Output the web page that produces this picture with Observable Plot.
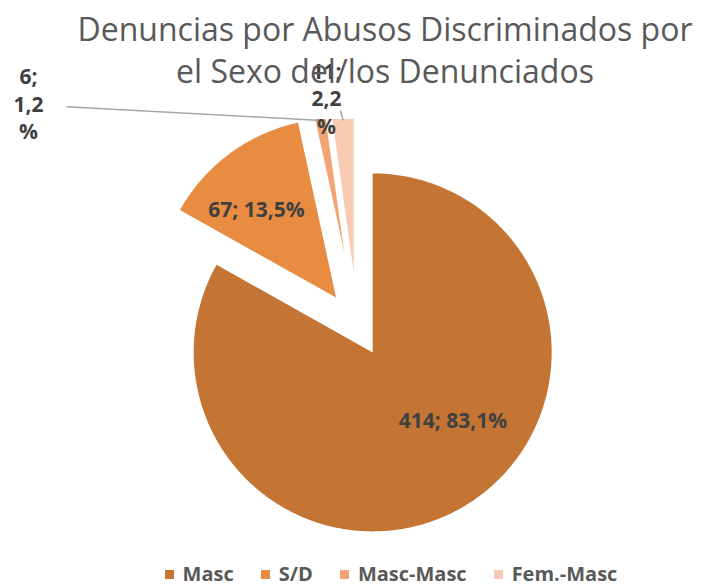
<!DOCTYPE html>
<html>
<head>
<meta charset="utf-8">
<script src="https://cdn.jsdelivr.net/npm/d3@7"></script>
<script src="https://cdn.jsdelivr.net/npm/@observablehq/plot@0.6"></script>
<style>
  body { margin: 0; background: #ffffff; }
  #wrap { position: relative; width: 701px; height: 586px; overflow: hidden; font-family: "Open Sans", sans-serif; background: #fff; }
  #chart { position: absolute; left: 0; top: 0; }
  #title { position: absolute; left: 35px; width: 700px; top: 8px; text-align: center; font-weight: 400; font-size: 32px; line-height: 42px; color: #595959; white-space: nowrap; }
  #legend { position: absolute; top: 563px; left: 81px; width: 620px; height: 22px; display: flex; justify-content: center; align-items: center; gap: 27px; font-weight: 700; font-size: 20px; line-height: 22px; color: #595959; }
  .item { display: flex; align-items: center; }
  .sw { width: 9px; height: 9px; margin-right: 9px; }
</style>
</head>
<body>
<div id="wrap">
  <div id="chart"></div>
  <div id="title"></div>
  <div id="legend"></div>
</div>
<script>
// ---- data ----
const categories = ["Masc", "S/D", "Masc-Masc", "Fem.-Masc"];
const counts = [414, 67, 6, 11];
const colors = ["#C47534", "#E88C42", "#F2A474", "#F8CAB2"];
const titleLines = ["Denuncias por Abusos Discriminados por", "el Sexo del/los Denunciados"];

// ---- layout (styling) ----
const W = 701, H = 555, clipTop = 119;
const center = [357, 326];
const radius = 179;
const explode = [30, 36, 75, 55];                 // px each slice is pulled out
const labelAngle = [129.7, 318.2, 295.4, 351.1];  // degrees, from slice apex
const labelDist = [104.3, 119.5, 349.7, 176.2];
const labelWrap = [false, false, true, true];
const leaderFrom = [null, null, [38, 4], [14, 13]]; // offset from label centre

// ---- computations ----
const fmtPct = v => d3.format(".1f")(v * 100).replace(".", ",") + "%";
const total = d3.sum(counts);
const arcs = d3.pie().sort(null).value(d => d)(counts);

const slices = [];
const labels = [];
const leaders = [];
arcs.forEach((a, i) => {
  const mid = (a.startAngle + a.endAngle) / 2;
  const ax = center[0] + explode[i] * Math.sin(mid);
  const ay = center[1] - explode[i] * Math.cos(mid);
  const pts = [{x: ax, y: ay}];
  const n = Math.max(2, Math.ceil((a.endAngle - a.startAngle) / 0.01));
  for (let k = 0; k <= n; k++) {
    const t = a.startAngle + (a.endAngle - a.startAngle) * k / n;
    pts.push({x: ax + radius * Math.sin(t), y: ay - radius * Math.cos(t)});
  }
  pts.push({x: ax, y: ay});
  slices.push(pts);

  const la = labelAngle[i] * Math.PI / 180;
  const lx = ax + labelDist[i] * Math.sin(la);
  const ly = ay - labelDist[i] * Math.cos(la);
  const pct = fmtPct(counts[i] / total);
  const text = labelWrap[i]
    ? `${counts[i]};\n${pct.replace("%", "")}\n%`
    : `${counts[i]}; ${pct}`;
  labels.push({x: lx, y: ly, text});

  if (leaderFrom[i]) {
    const tEnd = (ay - (clipTop + 1)) / Math.cos(mid);
    leaders.push({
      x1: lx + leaderFrom[i][0], y1: ly + leaderFrom[i][1],
      x2: ax + tEnd * Math.sin(mid), y2: clipTop + 1
    });
  }
});

const chart = Plot.plot({
  width: W,
  height: H,
  marginTop: clipTop,
  marginBottom: 0,
  marginLeft: 0,
  marginRight: 0,
  x: {domain: [0, W], axis: null},
  y: {domain: [H, clipTop], axis: null},
  style: {background: "transparent", overflow: "visible"},
  marks: [
    ...slices.map((pts, i) => Plot.line(pts, {x: "x", y: "y", fill: colors[i], stroke: "none", clip: true})),
    Plot.link(leaders, {x1: "x1", y1: "y1", x2: "x2", y2: "y2", stroke: "#A6A6A6", strokeWidth: 1.5}),
    Plot.text(labels, {
      x: "x", y: "y", text: "text",
      fontSize: 21, fontWeight: 700, fontFamily: "Open Sans", fill: "#404040",
      lineHeight: 1.32
    })
  ]
});
document.getElementById("chart").appendChild(chart);

document.getElementById("title").innerHTML = titleLines.join("<br>");

const legend = document.getElementById("legend");
categories.forEach((c, i) => {
  const it = document.createElement("div");
  it.className = "item";
  const sw = document.createElement("span");
  sw.className = "sw";
  sw.style.background = colors[i];
  const tx = document.createElement("span");
  tx.textContent = c;
  it.appendChild(sw);
  it.appendChild(tx);
  legend.appendChild(it);
});
</script>
</body>
</html>
